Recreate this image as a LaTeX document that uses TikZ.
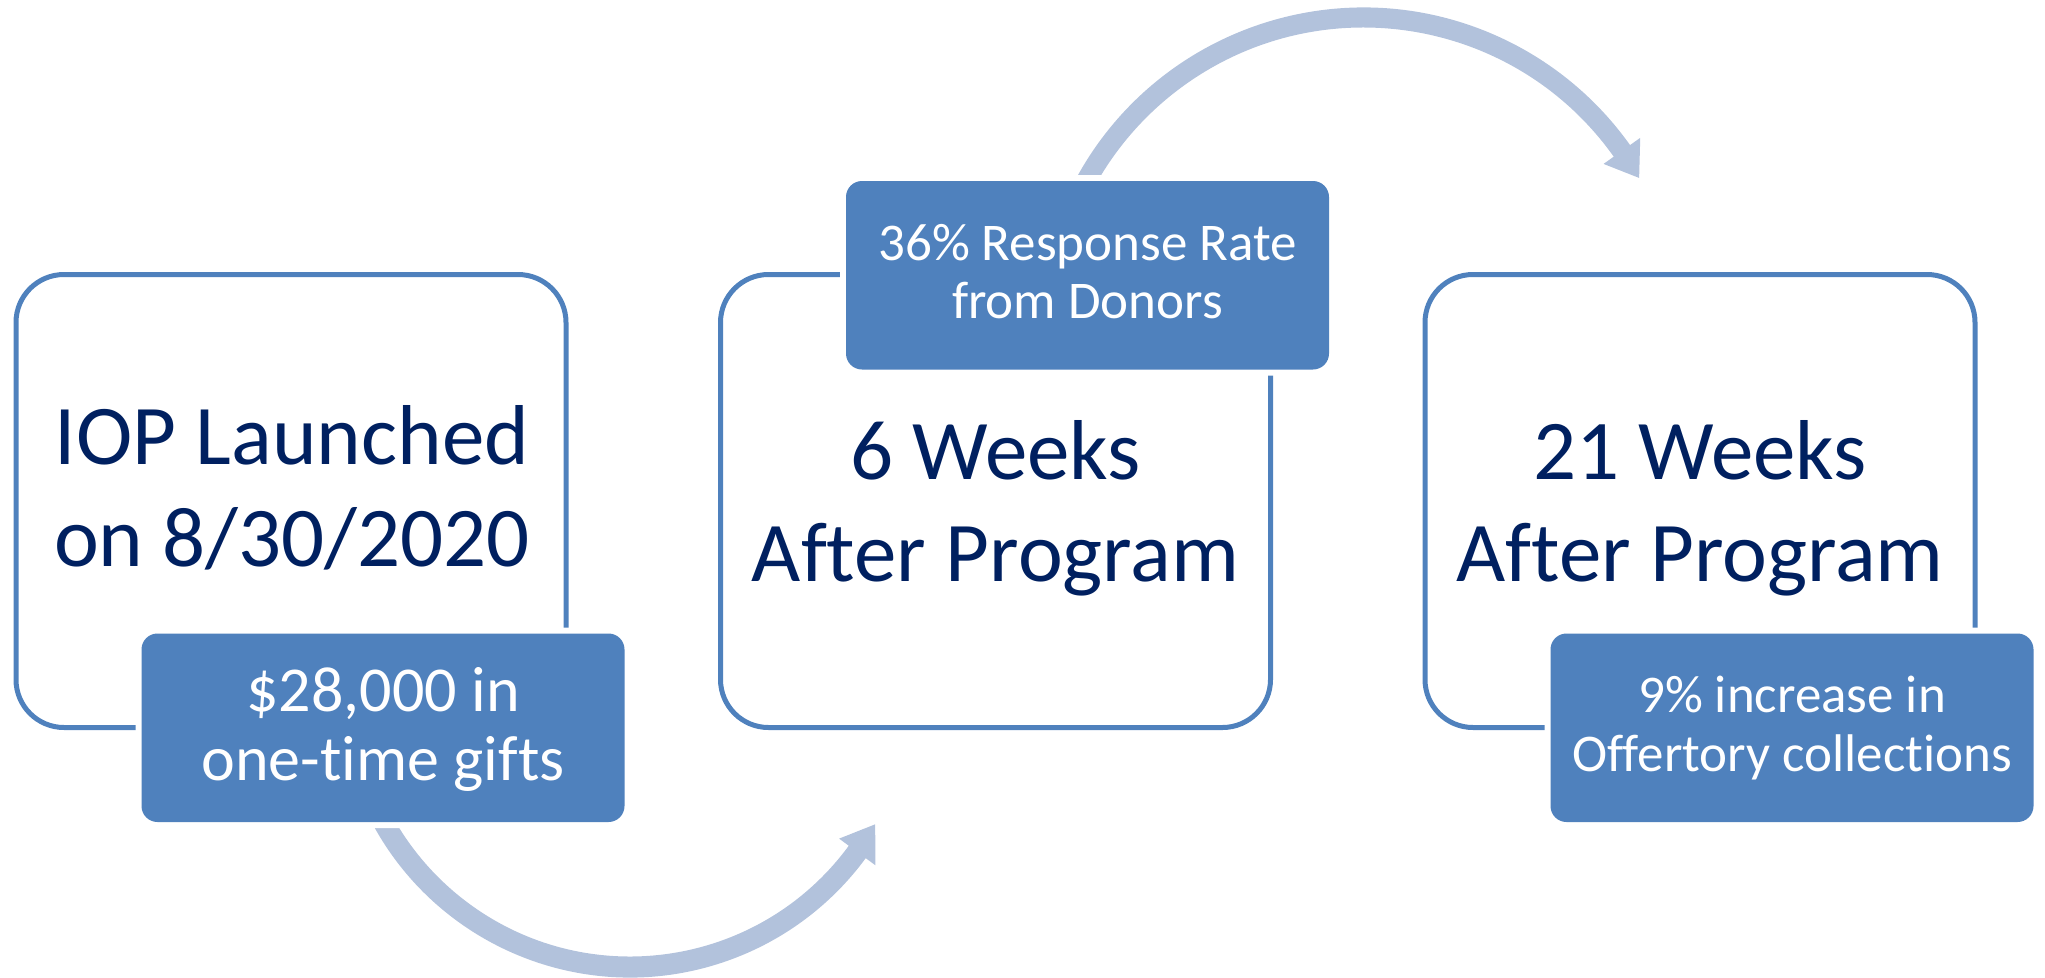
\documentclass[tikz,border=0pt]{standalone}
\usepackage{fontspec}
\setmainfont{Carlito}[Ligatures={NoCommon,NoRequired,NoContextual}]
\usetikzlibrary{calc}
\definecolor{accent}{RGB}{79,129,189}
\definecolor{arrowc}{RGB}{178,194,220}
\definecolor{navy}{RGB}{0,32,96}
\tikzset{
  outlinebox/.style={draw=accent, line width=5pt, rounded corners=48pt,
    minimum width=550pt, minimum height=453pt, inner sep=0pt},
  tagbox/.style={fill=accent, rounded corners=16pt,
    preaction={draw=white, line width=12pt},
    minimum width=483pt, minimum height=188.5pt, inner sep=0pt},
  arrowfill/.style={fill=arrowc},
  bigtxt/.style={text=navy, font=\fontsize{85}{102}\selectfont, inner sep=0pt, anchor=base},
  tagtxtA/.style={text=white, font=\fontsize{64}{69}\selectfont, inner sep=0pt, anchor=base},
  tagtxtB/.style={text=white, font=\fontsize{53}{58}\selectfont, inner sep=0pt, anchor=base},
}
\begin{document}
\begin{tikzpicture}[x=1pt,y=1pt]
\useasboundingbox (0,0) rectangle (2045,-977);
% arc centres
\coordinate (c1) at (630,-685);
\coordinate (c2) at (1363.5,-334.5);
% bottom curved arrow
\fill[arrowfill] ($(c1)+(200:292.5)$) arc[start angle=200, end angle=323.7, radius=292.5]
  -- ($(c1)+(323.7:304.5)$) -- ($(c1)+(330.4:282)$) -- ($(c1)+(323.7:259.5)$)
  -- ($(c1)+(323.7:271.5)$) arc[start angle=323.7, end angle=200, radius=271.5] -- cycle;
% top curved arrow
\fill[arrowfill] ($(c2)+(155:327)$) arc[start angle=155, end angle=35.4, radius=327]
  -- ($(c2)+(35.4:339.5)$) -- ($(c2)+(29.6:317)$) -- ($(c2)+(35.4:294.5)$)
  -- ($(c2)+(35.4:307)$) arc[start angle=35.4, end angle=155, radius=307] -- cycle;
% outline boxes
\node[outlinebox] (b1) at (291,-501) {};
\node[outlinebox] (b2) at (995.5,-501) {};
\node[outlinebox] (b3) at (1700,-501) {};
% filled tag boxes
\node[tagbox] (f1) at (383,-727.75) {};
\node[tagbox] (f2) at (1087.5,-275.25) {};
\node[tagbox] (f3) at (1792,-727.75) {};
% main texts
\node[bigtxt] (t1a) at (292,-464) {IOP Launched};
\node[bigtxt] (t1b) at (292,-566) {on 8/30/2020};
\node[bigtxt] (t2a) at (995.5,-479) {6 Weeks};
\node[bigtxt] (t2b) at (995.5,-581) {After Program};
\node[bigtxt] (t3a) at (1700,-479) {21 Weeks};
\node[bigtxt] (t3b) at (1700,-581) {After Program};
% tag texts
\node[tagtxtA] (g1a) at (383,-711) {\$28,000 in};
\node[tagtxtA] (g1b) at (383,-780) {one-time gifts};
\node[tagtxtB] (g2a) at (1087.5,-260.5) {36\% Response Rate};
\node[tagtxtB] (g2b) at (1087.5,-318) {from Donors};
\node[tagtxtB] (g3a) at (1792,-712) {9\% increase in};
\node[tagtxtB] (g3b) at (1792,-771) {Offertory collections};
\end{tikzpicture}
\end{document}
